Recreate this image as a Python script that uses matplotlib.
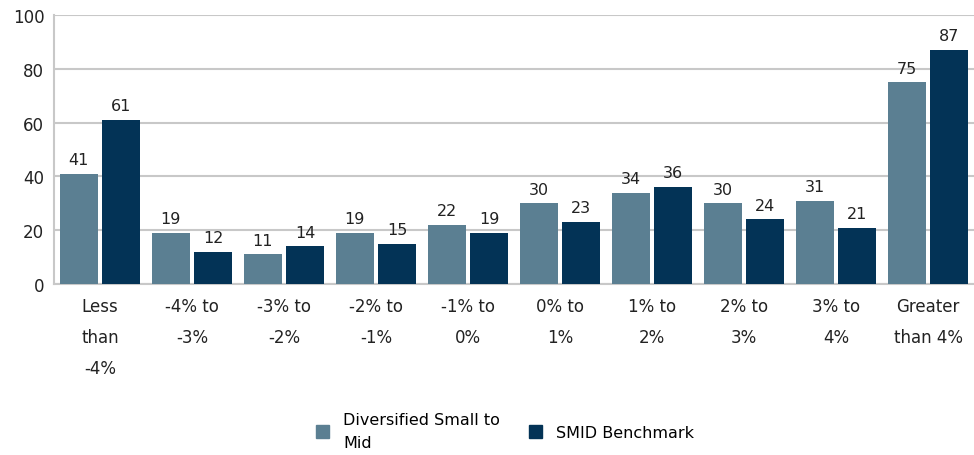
import numpy as np
import matplotlib.pyplot as plt
from matplotlib.patches import Patch

# return buckets and counts for each series
categories = ["Less\nthan\n-4%", "-4% to\n-3%", "-3% to\n-2%", "-2% to\n-1%", "-1% to\n0%",
              "0% to\n1%", "1% to\n2%", "2% to\n3%", "3% to\n4%", "Greater\nthan 4%"]
fund = [41, 19, 11, 19, 22, 30, 34, 30, 31, 75]
benchmark = [61, 12, 14, 15, 19, 23, 36, 24, 21, 87]

light = "#5B7F92"
dark = "#033356"
plt.rcParams['font.family'] = ['DejaVu Sans']

fig = plt.figure(figsize=(9.74, 4.56), dpi=100)
ax = fig.add_axes([54 / 974, 171 / 456, 920 / 974, 269 / 456])

x = np.arange(len(categories))
w = 0.414
off = 0.229
b1 = ax.bar(x - off, fund, w, color=light, zorder=3)
b2 = ax.bar(x + off, benchmark, w, color=dark, zorder=3)

for bars, vals in ((b1, fund), (b2, benchmark)):
    for rect, v in zip(bars, vals):
        ax.text(rect.get_x() + rect.get_width() / 2, v + 2.5, str(v),
                ha="center", va="bottom", fontsize=11.5, color="#222222")

ax.set_xlim(-0.5, len(categories) - 0.5)
ax.set_ylim(0, 100)
ax.set_yticks(range(0, 101, 20))
ax.set_xticks(x)
ax.set_xticklabels(categories, linespacing=1.95)
ax.tick_params(axis="both", length=0, labelsize=12, colors="#222222")
ax.tick_params(axis="x", pad=9)
ax.tick_params(axis="y", pad=7)
ax.yaxis.grid(True, color="#C8C8C8", linewidth=1.5, zorder=0)
ax.set_axisbelow(True)
for s in ("top", "right"):
    ax.spines[s].set_visible(False)
for s in ("left", "bottom"):
    ax.spines[s].set_color("#C8C8C8")
    ax.spines[s].set_linewidth(1.5)

handles = [Patch(color=light, label="Diversified Small to\nMid"),
           Patch(color=dark, label="SMID Benchmark")]
leg = fig.legend(handles=handles, loc="center", bbox_to_anchor=(505 / 974, 1 - 432 / 456),
                 ncol=2, frameon=False, fontsize=11.5, handlelength=0.8, handleheight=0.8,
                 handletextpad=0.9, columnspacing=1.8)
for t in leg.get_texts():
    t.set_linespacing(1.6)

fig.savefig("out.png", dpi=100)
